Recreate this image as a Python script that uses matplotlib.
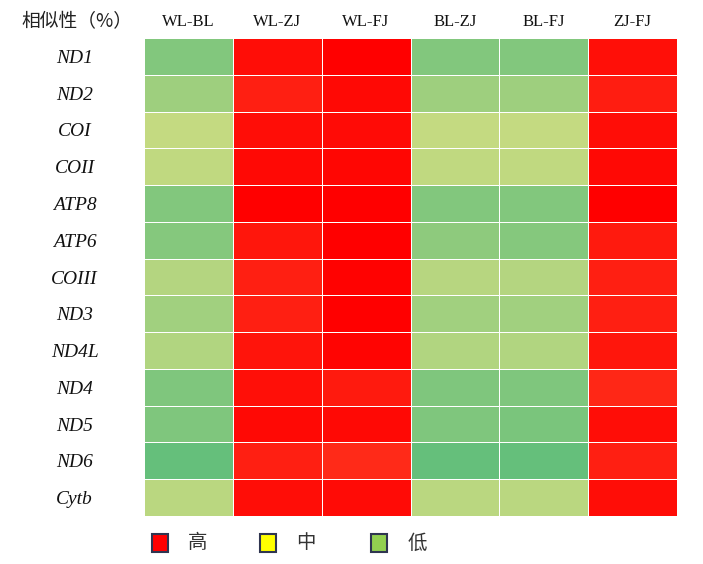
import numpy as np
import matplotlib
matplotlib.use("Agg")
import matplotlib.pyplot as plt
from matplotlib.colors import LinearSegmentedColormap, Normalize
from matplotlib.patches import Rectangle

# pairs of populations (columns) and mitochondrial genes (rows)
pairs = ["WL-BL", "WL-ZJ", "WL-FJ", "BL-ZJ", "BL-FJ", "ZJ-FJ"]
genes = ["ND1", "ND2", "COI", "COII", "ATP8", "ATP6", "COIII",
         "ND3", "ND4L", "ND4", "ND5", "ND6", "Cytb"]

# similarity (%)
wl_bl = [82.0, 83.8, 86.2, 86.0, 82.0, 82.2, 85.2, 84.0, 85.0, 81.8, 81.8, 80.2, 85.6]
wl_zj = [99.4, 98.6, 99.4, 99.6, 100.0, 99.0, 98.6, 98.6, 99.1, 99.3, 99.6, 98.6, 99.4]
wl_fj = [100.0, 99.6, 99.5, 99.7, 100.0, 100.0, 99.9, 100.0, 99.8, 98.9, 99.6, 98.2, 99.5]
bl_zj = [82.0, 83.8, 86.2, 86.0, 82.0, 82.8, 85.4, 84.0, 85.0, 81.8, 81.8, 80.2, 85.6]
bl_fj = [82.0, 83.8, 86.2, 86.0, 82.0, 82.2, 85.2, 84.0, 85.0, 81.8, 81.5, 80.2, 85.6]
zj_fj = [99.3, 98.7, 99.4, 99.6, 100.0, 98.9, 98.6, 98.6, 99.0, 98.3, 99.4, 98.6, 99.4]

legend_labels = ["高", "中", "低"]
legend_colors = ["#FF0000", "#FFFF00", "#92D050"]

data = np.column_stack([wl_bl, wl_zj, wl_fj, bl_zj, bl_fj, zj_fj])

cmap = LinearSegmentedColormap.from_list(
    "gyr", [(0.0, "#63BE7B"), (0.5, "#FFEB84"), (1.0, "#FF0000")])
norm = Normalize(vmin=80, vmax=100)

plt.rcParams['font.family'] = ['Liberation Serif', 'Noto Sans CJK SC']

fig = plt.figure(figsize=(7.03, 5.64), dpi=100)
ax = fig.add_axes([144 / 703, 1 - 516 / 564, 533 / 703, 478 / 564])

ax.pcolormesh(data, cmap=cmap, norm=norm, edgecolors="white", linewidth=0.7)
ax.set_xlim(0, len(pairs))
ax.set_ylim(len(genes), 0)

ax.set_xticks(np.arange(len(pairs)) + 0.5)
ax.set_xticklabels(pairs, fontsize=12, color="#111111")
ax.xaxis.tick_top()
ax.set_yticks(np.arange(len(genes)) + 0.5)
ax.set_yticklabels(genes, fontsize=14, style="italic", color="#111111")
ax.tick_params(axis="x", length=0, pad=6)
ax.tick_params(axis="y", length=0, pad=50)
for lab in ax.get_yticklabels():
    lab.set_horizontalalignment("center")
for s in ax.spines.values():
    s.set_visible(False)

fig.text(77 / 703, 1 - 22 / 564, "相似性（%）", fontsize=13.5,
         family=['Noto Sans CJK SC', 'DejaVu Sans'], color="#222222",
         ha="center", va="center")

# legend squares
xs = [160, 268, 379]
for x, c, lab in zip(xs, legend_colors, legend_labels):
    fig.patches.append(Rectangle(((x - 8) / 703, 1 - 552 / 564), 16 / 703, 18 / 564,
                                 transform=fig.transFigure, facecolor=c,
                                 edgecolor="#2F3550", linewidth=1.5))
    fig.text((x + 38) / 703, 1 - 543 / 564, lab, fontsize=14,
             family=['Noto Sans CJK SC', 'DejaVu Sans'], color="#333333",
             ha="center", va="center")

fig.savefig("out.png", dpi=100)
